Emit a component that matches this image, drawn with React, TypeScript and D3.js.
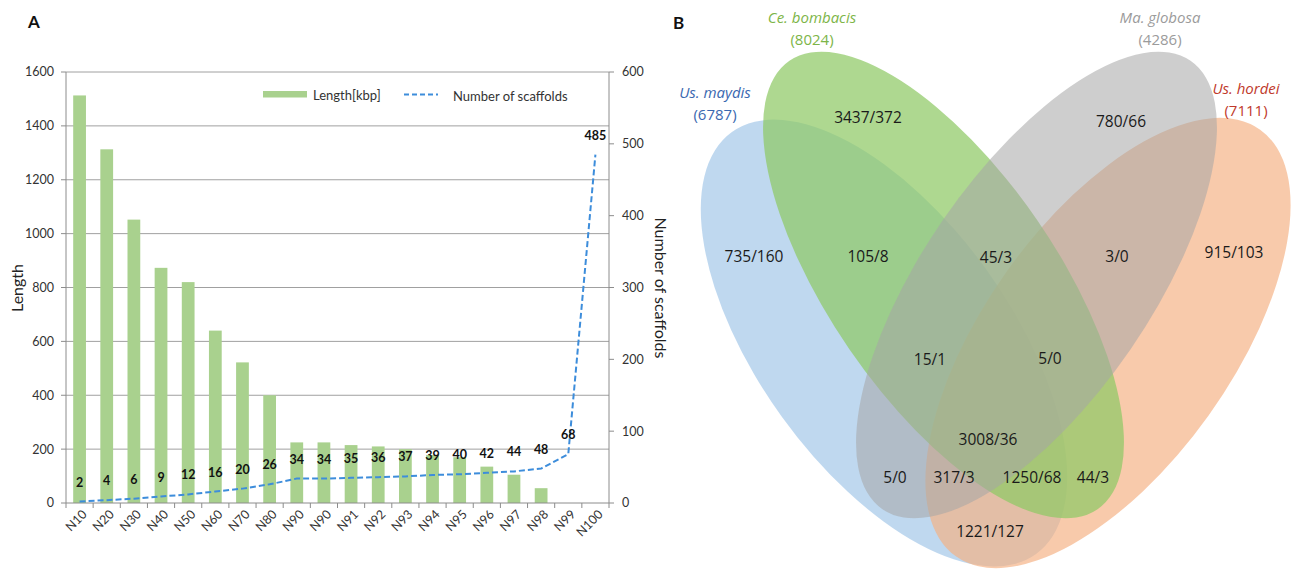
import React from "react";
import * as d3 from "d3";

// ---------- Data (panel A) ----------
const categories = ["N10","N20","N30","N40","N50","N60","N70","N80","N90","N90","N91","N92","N93","N94","N95","N96","N97","N98","N99","N100"];
const lengthKbp = [1513,1313,1052,873,820,640,522,400,225,225,215,210,200,178,170,135,105,55,0,0];
const scaffoldCounts = [2,4,6,9,12,16,20,26,34,34,35,36,37,39,40,42,44,48,68,485];
const lengthTicks = [0,200,400,600,800,1000,1200,1400,1600];
const scaffoldTicks = [0,100,200,300,400,500,600];

// ---------- Data (panel B) ----------
const vennNames = ["Us. maydis","Ce. bombacis","Ma. globosa","Us. hordei"];
const vennTotals = [6787, 8024, 4286, 7111];
const vennRegionLabels = ["735/160","3437/372","780/66","915/103","105/8","45/3","3/0","15/1","5/0","3008/36","5/0","317/3","1250/68","44/3","1221/127"];

// ---------- Layout (panel B) ----------
const ellipseLayout = [
  { cx: 884, cy: 343, rx: 260, ry: 126, rot: 54.2, fill: "#9dc3e6", op: 0.65 },
  { cx: 1108, cy: 343, rx: 262, ry: 124, rot: -54.5, fill: "#f4b183", op: 0.68 },
  { cx: 943.5, cy: 285, rx: 272, ry: 114, rot: 55.5, fill: "#8fc965", op: 0.72 },
  { cx: 1036.5, cy: 285, rx: 272, ry: 114, rot: -55.5, fill: "#a5a5a5", op: 0.55 },
];
const nameLayout = [
  { x: 715, y: 98, color: "#3a68b0" },
  { x: 812, y: 23, color: "#7db548" },
  { x: 1160, y: 23, color: "#9b9b9b" },
  { x: 1246, y: 94, color: "#c0392b" },
];
const regionLayout = [
  [754, 257], [868, 118], [1121, 122], [1234, 253], [868, 257], [996, 258], [1117, 257],
  [930, 360], [1050, 359], [988, 440], [895, 478], [954, 478], [1032, 478], [1093, 478], [990, 532],
];

const FONT = "Lato, 'Open Sans', 'DejaVu Sans', sans-serif";
const VFONT = "'Open Sans', Lato, 'DejaVu Sans', sans-serif";

export default function App() {
  const left = 66, right = 609, top = 72, bottom = 503;
  const x = d3.scaleBand<number>().domain(d3.range(categories.length)).range([left, right]).paddingInner(0.53).paddingOuter(0.265);
  const step = x.step();
  const yL = d3.scaleLinear().domain([0, 1600]).range([bottom, top]);
  const yR = d3.scaleLinear().domain([0, 600]).range([bottom, top]);
  const cxOf = (i: number) => (x(i) as number) + x.bandwidth() / 2;
  const line = d3.line<number>().x((_, i) => cxOf(i)).y((d) => yR(d)).curve(d3.curveLinear);

  return (
    <div style={{ position: "absolute", left: 0, top: 0 }}>
      <svg width={1293} height={569} style={{ display: "block", background: "#fff" }} fontFamily={FONT}>
        {/* ---------- Panel A ---------- */}
        <text x={28} y={28} fontSize={17} fontWeight="bold" fill="#111">A</text>
        {lengthTicks.filter((t) => t > 0).map((t) => (
          <line key={"g" + t} x1={left} x2={right} y1={yL(t)} y2={yL(t)} stroke="#a0a0a0" strokeWidth={1} />
        ))}
        {lengthKbp.map((v, i) => (
          <rect key={"b" + i} x={x(i)} y={yL(v)} width={x.bandwidth()} height={bottom - yL(v)} fill="#a9d18e" />
        ))}
        <line x1={left} x2={left} y1={top} y2={bottom} stroke="#8c8c8c" />
        <line x1={right} x2={right} y1={top} y2={bottom} stroke="#8c8c8c" />
        <line x1={left} x2={right} y1={bottom} y2={bottom} stroke="#8c8c8c" />
        {lengthTicks.map((t) => (
          <g key={"lt" + t}>
            <line x1={left - 5} x2={left} y1={yL(t)} y2={yL(t)} stroke="#8c8c8c" />
            <text x={left - 12} y={yL(t)} dy="0.35em" textAnchor="end" fontSize={12.5} fill="#333">{t}</text>
          </g>
        ))}
        {scaffoldTicks.map((t) => (
          <g key={"rt" + t}>
            <line x1={right} x2={right + 5} y1={yR(t)} y2={yR(t)} stroke="#8c8c8c" />
            <text x={right + 13} y={yR(t)} dy="0.35em" textAnchor="start" fontSize={12.5} fill="#333">{t}</text>
          </g>
        ))}
        {d3.range(categories.length + 1).map((i) => (
          <line key={"xt" + i} x1={left + i * step} x2={left + i * step} y1={bottom} y2={bottom + 5} stroke="#8c8c8c" />
        ))}
        {categories.map((c, i) => (
          <text key={"xl" + i} transform={`translate(${cxOf(i) + 5},${bottom + 9}) rotate(-45)`} textAnchor="end" dy="0.35em" fontSize={12.5} fill="#333">{c}</text>
        ))}
        <text transform={`translate(23,288) rotate(-90)`} textAnchor="middle" fontSize={16} fill="#222">Length</text>
        <text transform={`translate(655,288) rotate(90)`} textAnchor="middle" fontSize={16} fill="#222">Number of scaffolds</text>
        <path d={line(scaffoldCounts) || ""} fill="none" stroke="#3d8ddb" strokeWidth={2} strokeDasharray="6,3" />
        {scaffoldCounts.map((v, i) => (
          <text key={"dl" + i} x={cxOf(i)} y={yR(v) - 15} textAnchor="middle" fontSize={12.5} fontWeight="bold" fill="#111">{v}</text>
        ))}
        <rect x={263} y={91} width={44} height={6.5} fill="#a9d18e" />
        <text x={313} y={95} dy="0.35em" fontSize={13} fill="#333">Length[kbp]</text>
        <line x1={404} x2={438} y1={94.5} y2={94.5} stroke="#3d8ddb" strokeWidth={2} strokeDasharray="5,3" />
        <text x={453} y={96} dy="0.35em" fontSize={13} fill="#333">Number of scaffolds</text>

        {/* ---------- Panel B ---------- */}
        <text x={673} y={29} fontSize={17} fontWeight="bold" fill="#111">B</text>
        {ellipseLayout.map((e, i) => (
          <ellipse key={"e" + i} cx={e.cx} cy={e.cy} rx={e.rx} ry={e.ry} transform={`rotate(${e.rot} ${e.cx} ${e.cy})`} fill={e.fill} fillOpacity={e.op} />
        ))}
        {vennNames.map((n, i) => (
          <g key={"n" + i} fill={nameLayout[i].color} fontSize={15} fontFamily={VFONT}>
            <text x={nameLayout[i].x} y={nameLayout[i].y} textAnchor="middle" fontStyle="italic">{n}</text>
            <text x={nameLayout[i].x} y={nameLayout[i].y + 22} textAnchor="middle">({vennTotals[i]})</text>
          </g>
        ))}
        {vennRegionLabels.map((l, i) => (
          <text key={"r" + i} x={regionLayout[i][0]} y={regionLayout[i][1]} dy="0.35em" textAnchor="middle" fontSize={15.5} fontFamily={VFONT} fill="#1a1a1a">{l}</text>
        ))}
      </svg>
    </div>
  );
}
